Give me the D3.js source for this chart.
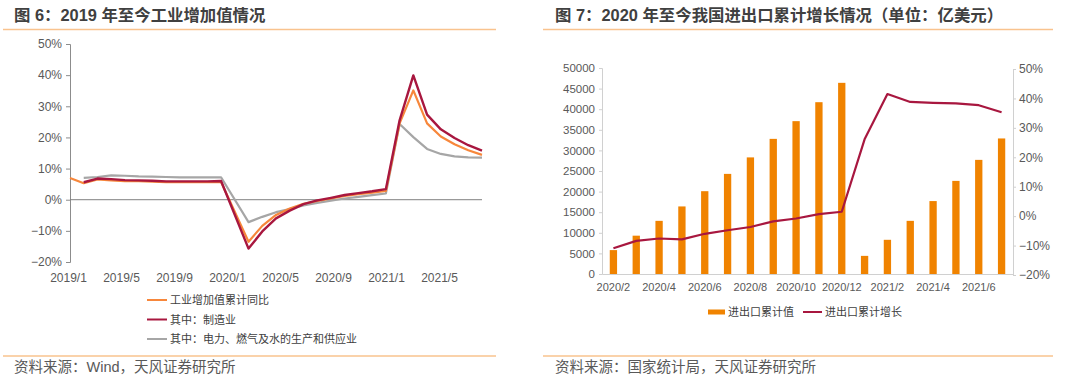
<!DOCTYPE html>
<html>
<head>
<meta charset="utf-8">
<script src="https://cdn.jsdelivr.net/npm/d3@7"></script>
<style>
  body { margin: 0; background: #fff; }
  svg text { font-family: "Liberation Sans", Arial, "Noto Sans CJK SC", sans-serif; fill: #595959; }
  .title { font-weight: bold; fill: #404040; font-size: 16.4px; }
  .src { font-size: 14.5px; }
  .tick text { font-size: 12px; }
  .lg { font-size: 11px; fill: #404040; }
</style>
</head>
<body>
<svg id="chart" width="1080" height="384"></svg>
<script>
// ---- Fig 6 data: industrial value added, cumulative yoy (%) ----
const months6 = ['2019/1','2019/2','2019/3','2019/4','2019/5','2019/6','2019/7','2019/8','2019/9','2019/10','2019/11','2019/12',
  '2020/1','2020/2','2020/3','2020/4','2020/5','2020/6','2020/7','2020/8','2020/9','2020/10','2020/11','2020/12',
  '2021/1','2021/2','2021/3','2021/4','2021/5','2021/6','2021/7'];
const ivaTotal = [7.0,5.3,6.5,6.2,6.0,6.0,5.8,5.6,5.6,5.6,5.6,5.7,
  null,-13.5,-8.4,-4.9,-2.8,-1.3,-0.4,0.4,1.2,1.8,2.3,2.8,
  24.5,35.1,24.5,20.3,17.8,15.9,14.4];
const ivaMfg = [null,5.6,6.8,6.6,6.3,6.2,6.1,5.9,5.9,5.9,5.9,6.0,
  null,-15.7,-10.2,-6.0,-3.5,-1.4,-0.2,0.6,1.5,2.1,2.7,3.4,
  25.5,39.9,27.3,22.6,19.8,17.5,15.8];
const ivaUtil = [null,7.0,7.3,7.8,7.7,7.5,7.4,7.3,7.2,7.2,7.2,7.2,
  null,-7.2,-5.5,-4.0,-3.0,-1.8,-1.0,-0.3,0.4,0.9,1.5,2.0,
  24.3,20.1,16.3,14.7,13.9,13.6,13.5];
const ticks6 = ['2019/1','2019/5','2019/9','2020/1','2020/5','2020/9','2021/1','2021/5'];
const pct6 = [-20,-10,0,10,20,30,40,50];
const legend6 = ['工业增加值累计同比','其中：制造业','其中：电力、燃气及水的生产和供应业'];

// ---- Fig 7 data: imports+exports cumulative (100M USD) and growth (%) ----
const months7 = ['2020/2','2020/3','2020/4','2020/5','2020/6','2020/7','2020/8','2020/9','2020/10','2020/11','2020/12',
  '2021/1','2021/2','2021/3','2021/4','2021/5','2021/6','2021/7'];
const tradeValue = [5800,9300,12900,16400,20100,24300,28300,32800,37100,41700,46400,
  4400,8300,12900,17700,22600,27700,32900];
const tradeGrowth = [-10.9,-8.4,-7.6,-7.9,-6.0,-4.8,-3.7,-1.8,-0.8,0.7,1.5,
  26.1,41.5,38.8,38.5,38.3,37.7,35.3];
const ticks7 = ['2020/2','2020/4','2020/6','2020/8','2020/10','2020/12','2021/2','2021/4','2021/6'];
const val7 = [0,5000,10000,15000,20000,25000,30000,35000,40000,45000,50000];
const pct7 = [-20,-10,0,10,20,30,40,50];
const legend7 = ['进出口累计值','进出口累计增长'];

const ORANGE = '#F7873B', RED = '#A8173F', GRAY = '#A6A6A6', BAR = '#F08300', RULE = '#F9C38E';

const svg = d3.select('#chart');

// page chrome: titles, rules, sources
const panels = [
  { x0: 3, x1: 496, tx: 14, title: '图 6：2019 年至今工业增加值情况', src: '资料来源：Wind，天风证券研究所' },
  { x0: 543, x1: 1053, tx: 555, title: '图 7：2020 年至今我国进出口累计增长情况（单位：亿美元）', src: '资料来源：国家统计局，天风证券研究所' }
];
panels.forEach(p => {
  svg.append('text').attr('class', 'title').attr('x', p.tx).attr('y', 21).text(p.title);
  svg.append('line').attr('x1', p.x0).attr('x2', p.x1).attr('y1', 29.5).attr('y2', 29.5).attr('stroke', RULE).attr('stroke-width', 1.6);
  svg.append('line').attr('x1', p.x0).attr('x2', p.x1).attr('y1', 356).attr('y2', 356).attr('stroke', RULE).attr('stroke-width', 1.6);
  svg.append('text').attr('class', 'src').attr('x', p.tx).attr('y', 372).text(p.src);
});

// ---- Fig 6 ----
(() => {
  const x = d3.scalePoint().domain(months6).range([70, 482]);
  const y = d3.scaleLinear().domain([-20, 50]).range([262, 44]);
  // label axis sits on its own monthly grid in the original
  const xl = d3.scalePoint().domain(months6.slice(0, 29)).range([68, 439]);

  const ya = svg.append('g').attr('transform', 'translate(70,0)')
    .call(d3.axisLeft(y).tickValues(pct6).tickSize(4).tickPadding(4).tickFormat(d => d + '%'));
  ya.select('.domain').attr('stroke', '#8c8c8c');
  ya.selectAll('.tick line').attr('stroke', '#8c8c8c');
  ya.selectAll('text').text(d => (d < 0 ? '−' + Math.abs(d) : d) + '%');

  const xa = svg.append('g').attr('transform', 'translate(0,268)')
    .call(d3.axisBottom(xl).tickValues(ticks6).tickSize(0).tickPadding(5));
  xa.select('.domain').remove();

  svg.append('line').attr('x1', 70).attr('x2', 482).attr('y1', y(0)).attr('y2', y(0)).attr('stroke', '#7f7f7f').attr('stroke-width', 1);

  const series = [
    { vals: ivaUtil, color: GRAY, w: 2.2 },
    { vals: ivaTotal, color: ORANGE, w: 2.2 },
    { vals: ivaMfg, color: RED, w: 2.4 }
  ];
  const line = d3.line().x(d => x(d.m)).y(d => y(d.v));
  series.forEach(s => {
    const pts = months6.map((m, i) => ({ m, v: s.vals[i] })).filter(d => d.v != null);
    svg.append('path').datum(pts).attr('d', line)
      .attr('fill', 'none').attr('stroke', s.color).attr('stroke-width', s.w).attr('stroke-linejoin', 'round');
  });

  const lc = [ORANGE, RED, GRAY];
  legend6.forEach((t, i) => {
    const ly = 300 + i * 19.5;
    svg.append('line').attr('x1', 147).attr('x2', 167).attr('y1', ly).attr('y2', ly).attr('stroke', lc[i]).attr('stroke-width', 2);
    svg.append('text').attr('class', 'lg').attr('x', 170).attr('y', ly + 4).text(t);
  });
})();

// ---- Fig 7 ----
(() => {
  const x = d3.scaleBand().domain(months7).range([602, 1013]).paddingInner(0.68).paddingOuter(0.34);
  const yv = d3.scaleLinear().domain([0, 50000]).range([274, 68]);
  const yp = d3.scaleLinear().domain([-20, 50]).range([275, 69]);

  const la = svg.append('g').attr('transform', 'translate(602,0)')
    .call(d3.axisLeft(yv).tickValues(val7).tickSize(3).tickPadding(4).tickFormat(d3.format('d')));
  la.select('.domain').attr('stroke', '#d0d0d0');
  la.selectAll('.tick line').attr('stroke', '#d0d0d0');
  la.selectAll('text').style('font-size', '11.5px');

  const ra = svg.append('g').attr('transform', 'translate(1013,0)')
    .call(d3.axisRight(yp).tickValues(pct7).tickSize(3).tickPadding(3));
  ra.select('.domain').attr('stroke', '#d0d0d0');
  ra.selectAll('.tick line').attr('stroke', '#d0d0d0');
  ra.selectAll('text').style('font-size', '12px').text(d => (d < 0 ? '−' + Math.abs(d) : d) + '%');

  const xa = svg.append('g').attr('transform', 'translate(0,274)')
    .call(d3.axisBottom(x).tickValues(ticks7).tickSize(0).tickPadding(9));
  xa.select('.domain').attr('stroke', '#d0d0d0');
  xa.selectAll('text').style('font-size', '11px');

  svg.append('g').selectAll('rect').data(months7).join('rect')
    .attr('x', d => x(d)).attr('width', x.bandwidth())
    .attr('y', (d, i) => yv(tradeValue[i])).attr('height', (d, i) => yv(0) - yv(tradeValue[i]))
    .attr('fill', BAR);

  const line = d3.line().x(d => x(d.m) + x.bandwidth() / 2).y(d => yp(d.v));
  svg.append('path').datum(months7.map((m, i) => ({ m, v: tradeGrowth[i] })))
    .attr('d', line).attr('fill', 'none').attr('stroke', RED).attr('stroke-width', 2.2).attr('stroke-linejoin', 'round');

  svg.append('rect').attr('x', 708).attr('y', 309.5).attr('width', 17).attr('height', 5).attr('fill', BAR);
  svg.append('text').attr('class', 'lg').attr('x', 728).attr('y', 316).text(legend7[0]);
  svg.append('line').attr('x1', 803).attr('x2', 822).attr('y1', 312).attr('y2', 312).attr('stroke', RED).attr('stroke-width', 2);
  svg.append('text').attr('class', 'lg').attr('x', 825).attr('y', 316).text(legend7[1]);
})();
</script>
</body>
</html>
